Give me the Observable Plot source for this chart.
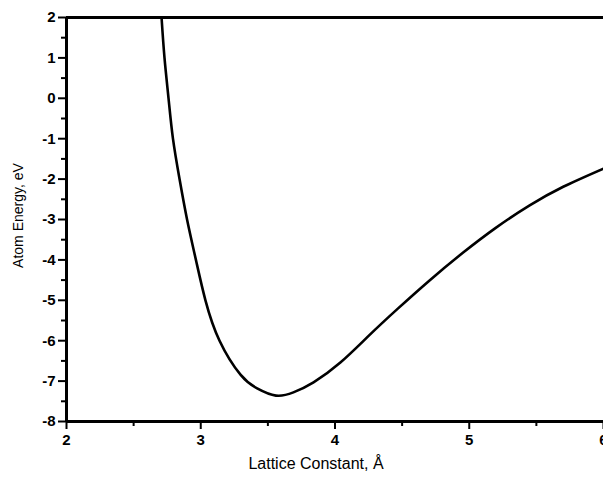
<!DOCTYPE html>
<html>
<head>
<meta charset="utf-8">
<script src="https://cdn.jsdelivr.net/npm/d3@7"></script>
<script src="https://cdn.jsdelivr.net/npm/@observablehq/plot@0.6"></script>
<style>
  html, body { margin: 0; padding: 0; background: #fff; overflow: hidden; }
  #chart svg { display: block; overflow: hidden; }
</style>
</head>
<body>
<div id="chart"></div>
<script>
// Energy per atom as a function of the lattice constant
const latticeConstant = [2.708, 2.730, 2.760, 2.793, 2.842, 2.898, 2.964, 3.035, 3.140, 3.296, 3.42, 3.56, 3.69, 3.84, 4.04, 4.26, 4.47, 4.70, 4.95, 5.20, 5.45, 5.70, 6.00];
const atomEnergy     = [2.00, 1.00, 0.00, -1.00, -2.00, -3.00, -4.00, -5.00, -6.00, -6.84, -7.18, -7.36, -7.28, -7.03, -6.54, -5.85, -5.20, -4.52, -3.83, -3.20, -2.65, -2.19, -1.74];

const xDomain = [2, 6];
const yDomain = [-8, 2];
const xMajorTicks = [2, 3, 4, 5, 6];
const xMinorTicks = [2.5, 3.5, 4.5, 5.5];
const yMajorTicks = [-8, -7, -6, -5, -4, -3, -2, -1, 0, 1, 2];
const yMinorTicks = [-7.5, -6.5, -5.5, -4.5, -3.5, -2.5, -1.5, -0.5, 0.5, 1.5];

const xTitle = "Lattice Constant, Å";
const yTitle = "Atom Energy, eV";

const curve = latticeConstant.map((x, i) => ({x, y: atomEnergy[i]}));

const tickFont = {fontSize: 15, fontWeight: "bold"};

const chart = Plot.plot({
  width: 603,
  height: 480,
  marginLeft: 66,
  marginRight: 0,
  marginTop: 17,
  marginBottom: 59,
  style: {fontFamily: "'Liberation Sans', Arial, sans-serif", background: "white", color: "black", overflow: "hidden"},
  x: {domain: xDomain},
  y: {domain: yDomain},
  marks: [
    Plot.axisX(xMinorTicks, {anchor: "bottom", tickSize: 5, strokeWidth: 2, text: null, label: null}),
    Plot.axisX(xMajorTicks, {anchor: "bottom", tickSize: 8, strokeWidth: 2, tickPadding: 5, label: null, tickFormat: (d) => String(d), ...tickFont}),
    Plot.axisY(yMinorTicks, {anchor: "left", tickSize: 5, strokeWidth: 2, text: null, label: null}),
    Plot.axisY(yMajorTicks, {anchor: "left", tickSize: 8, strokeWidth: 2, tickPadding: 3, label: null, tickFormat: (d) => String(d), ...tickFont}),
    Plot.ruleY(yDomain, {strokeWidth: 3}),
    Plot.ruleX([xDomain[0]], {strokeWidth: 3}),
    Plot.line(curve, {x: "x", y: "y", curve: "natural", strokeWidth: 2.6, stroke: "black"}),
    Plot.text([xTitle], {text: (d) => d, frameAnchor: "bottom", textAnchor: "middle", dy: 47, dx: -19, fontSize: 16}),
    Plot.text([yTitle], {text: (d) => d, frameAnchor: "left", textAnchor: "middle", lineAnchor: "middle", rotate: -90, dx: -48, dy: -4, fontSize: 14})
  ]
});

document.getElementById("chart").append(chart);
</script>
</body>
</html>
